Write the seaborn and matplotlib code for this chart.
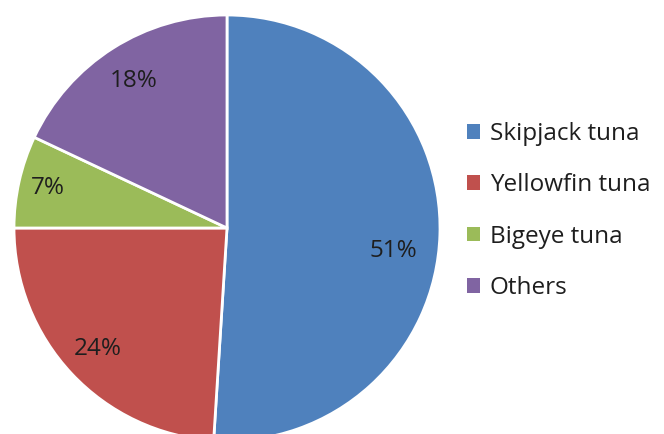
"""
Tuna catch composition pie chart
"""

import numpy as np
import matplotlib
matplotlib.use("Agg")
import matplotlib.pyplot as plt
import seaborn as sns

# Data
species = ['Skipjack tuna', 'Yellowfin tuna', 'Bigeye tuna', 'Others']
shares = [51, 24, 7, 18]
colors = ['#4F81BD', '#C0504D', '#9BBB59', '#8064A2']

# label placement (fraction of radius) per slice
label_dist = [0.80, 0.83, 0.86, 0.82]

sns.set_style("white")
plt.rcParams['font.family'] = ['Open Sans', 'DejaVu Sans']

fig = plt.figure(figsize=(6.64, 4.34), dpi=100)
# pie centre ~ (227, 228) px, radius ~ 213 px
W, H = 664, 434
cx, cy, r = 227, 228, 213
ax = fig.add_axes([(cx - r) / W, (H - cy - r) / H, 2 * r / W, 2 * r / H])

wedges, _ = ax.pie(
    shares,
    colors=colors,
    startangle=90,
    counterclock=False,
    wedgeprops={'edgecolor': 'white', 'linewidth': 2},
)
ax.set_xlim(-1, 1)
ax.set_ylim(-1, 1)
ax.set_aspect('equal')
ax.axis('off')

# percentage labels
for w, val, d in zip(wedges, shares, label_dist):
    ang = np.deg2rad((w.theta1 + w.theta2) / 2)
    x, y = d * np.cos(ang), d * np.sin(ang)
    if val == shares[0]:
        y -= 0.085
        x -= 0.02
    ax.text(x, y, f'{val}%', ha='center', va='center',
            fontsize=17.5, color='#1e1e1e')

leg = fig.legend(
    wedges, species,
    loc='center left',
    bbox_to_anchor=(445 / W, 1 - 211 / H),
    frameon=False,
    fontsize=17.5,
    handlelength=0.55,
    handleheight=0.55,
    handletextpad=0.4,
    labelspacing=1.12,
    labelcolor='#1e1e1e',
)
for h in leg.legend_handles:
    h.set_edgecolor('none')

fig.savefig('out.png', dpi=100)
plt.close(fig)
